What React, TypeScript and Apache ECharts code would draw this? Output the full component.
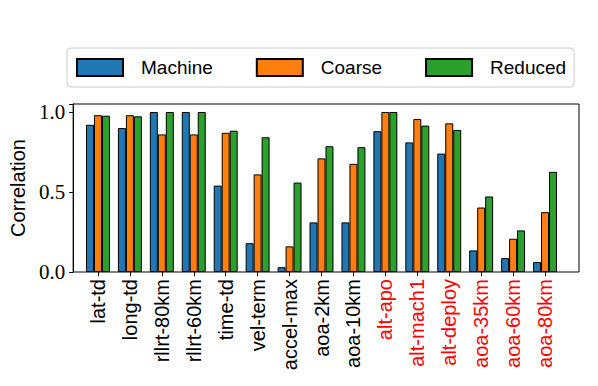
import React, { useEffect, useRef } from "react";
import * as echarts from "echarts";

const categories = [
  "lat-td", "long-td", "rllrt-80km", "rllrt-60km", "time-td", "vel-term", "accel-max",
  "aoa-2km", "aoa-10km", "alt-apo", "alt-mach1", "alt-deploy", "aoa-35km", "aoa-60km", "aoa-80km",
];
const redLabels = ["alt-apo", "alt-mach1", "alt-deploy", "aoa-35km", "aoa-60km", "aoa-80km"];
const machine = [0.92, 0.90, 1.0, 1.0, 0.54, 0.18, 0.03, 0.31, 0.31, 0.88, 0.81, 0.74, 0.135, 0.087, 0.062];
const coarse = [0.98, 0.98, 0.86, 0.86, 0.87, 0.61, 0.16, 0.71, 0.676, 1.0, 0.956, 0.929, 0.403, 0.208, 0.374];
const reduced = [0.977, 0.973, 1.0, 1.0, 0.883, 0.842, 0.559, 0.786, 0.78, 1.0, 0.915, 0.888, 0.472, 0.26, 0.626];
const seriesNames = ["Machine", "Coarse", "Reduced"];
const yTicks = [0, 0.5, 1.0];

export default function App() {
  const ref = useRef<HTMLDivElement>(null);
  useEffect(() => {
    const chart = echarts.init(ref.current!, null, { renderer: "svg" });
    const colors = ["#1f77b4", "#ff7f0e", "#2ca02c"];
    const datas = [machine, coarse, reduced];
    const sans = "Liberation Sans";
    chart.setOption({
      animation: false,
      backgroundColor: "#fff",
      legend: {
        left: 67,
        top: 48,
        orient: "horizontal",
        data: seriesNames,
        icon: "rect",
        itemWidth: 46,
        itemHeight: 17,
        itemGap: 43,
        padding: [10, 8, 10, 9],
        borderColor: "#cccccc",
        borderWidth: 1,
        borderRadius: 4,
        backgroundColor: "#fff",
        textStyle: {
          fontFamily: sans,
          fontSize: 19,
          color: "#000",
          padding: [0, 0, 0, 13],
          lineHeight: 17,
        },
      },
      grid: [
        { left: 63, top: 104, width: 516, height: 168, show: true, borderColor: "#000", borderWidth: 1, backgroundColor: "transparent" },
        { left: 82, top: 104, width: 479, height: 168 },
      ],
      xAxis: [
        { type: "value", gridIndex: 0, min: 0, max: 1, show: false },
        {
          type: "category",
          gridIndex: 1,
          data: categories,
          axisLine: { show: false },
          axisTick: { show: true, alignWithLabel: true, length: 4, lineStyle: { color: "#000" } },
          axisLabel: {
            rotate: 90,
            interval: 0,
            margin: 7,
            fontFamily: sans,
            fontSize: 20,
            color: (v: string) => (redLabels.includes(v) ? "#ff0000" : "#000"),
          },
        },
      ],
      yAxis: [
        {
          type: "value",
          gridIndex: 0,
          min: 0,
          max: 1.05,
          interval: 0.5,
          name: "Correlation",
          nameLocation: "middle",
          nameGap: 42,
          nameTextStyle: { fontFamily: sans, fontSize: 20, color: "#000" },
          axisLine: { show: true, lineStyle: { color: "#000" } },
          axisTick: { show: true, length: 4, lineStyle: { color: "#000" } },
          splitLine: { show: false },
          axisLabel: {
            margin: 8,
            fontFamily: "Liberation Serif",
            fontSize: 21,
            color: "#000",
            formatter: (v: number) => {
              const t = yTicks.find((x) => Math.abs(x - v) < 1e-6);
              return t === undefined ? "" : t.toFixed(1);
            },
          },
        },
        { type: "value", gridIndex: 1, min: 0, max: 1.05, show: false },
      ],
      series: seriesNames.map((name, i) => ({
        name,
        type: "bar",
        xAxisIndex: 1,
        yAxisIndex: 1,
        data: datas[i],
        barWidth: "25%",
        barGap: "0%",
        itemStyle: { color: colors[i], borderColor: "#000", borderWidth: 1 },
      })),
    });
    return () => chart.dispose();
  }, []);
  return <div ref={ref} style={{ position: "fixed", left: 0, top: 0, width: 598, height: 386 }} />;
}
